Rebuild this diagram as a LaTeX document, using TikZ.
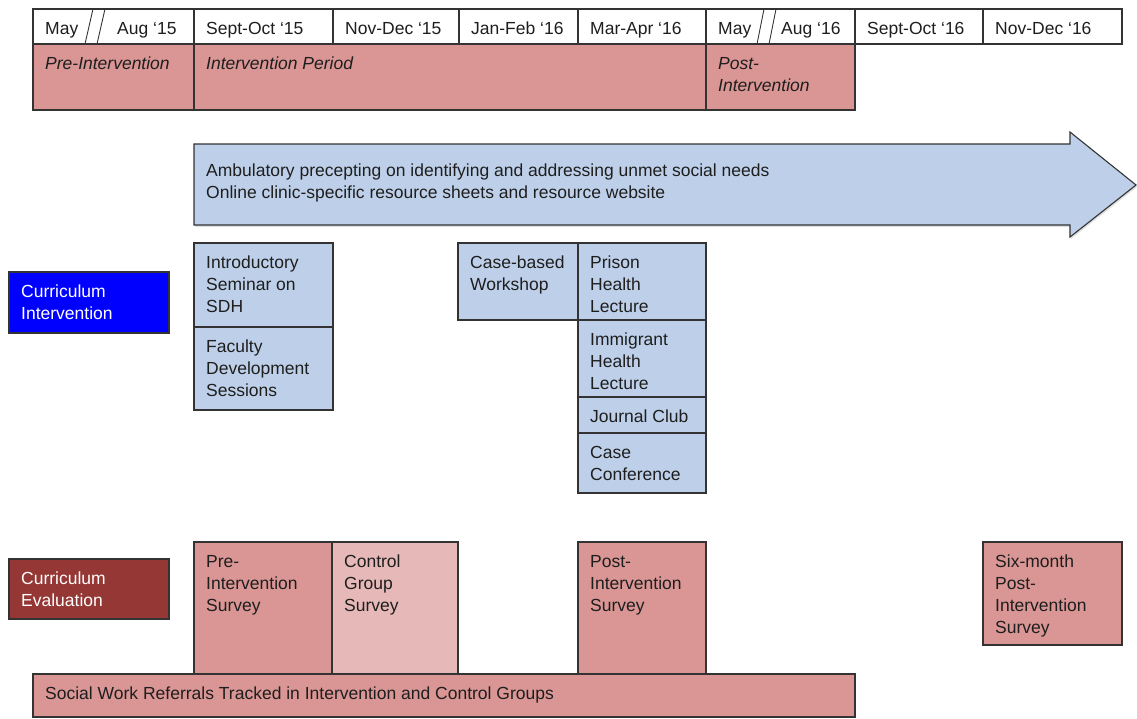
\documentclass[tikz,border=0pt]{standalone}
\usepackage{fontspec}
\setmainfont{Liberation Sans}
\usetikzlibrary{shadows}
\definecolor{rose}{HTML}{D99694}
\definecolor{palerose}{HTML}{E6B9B8}
\definecolor{sky}{HTML}{BED0E9}
\definecolor{royal}{HTML}{0000FF}
\definecolor{maroon}{HTML}{953735}
\definecolor{edge}{HTML}{333333}
\definecolor{ink}{HTML}{1E1E1E}

% stacked lines whose baseline is that of the first line
\newcommand{\toplines}[1]{\begin{tabular}[t]{@{}l@{}}#1\end{tabular}}

% #1 name, #2 x1, #3 y1, #4 x2, #5 y2, #6 style, #7 text
\newcommand{\cellbox}[7]{%
  \node[box,#6,minimum width={(#4-#2)*1pt},minimum height={(#5-#3)*1pt},anchor=north west] (#1) at (#2,#3) {};
  \node[txt,anchor=base west] (#1-t) at (#2+12,#3+25) {\toplines{#7}};
}

\begin{document}
\begin{tikzpicture}[x=1pt,y=-1pt,
  box/.style={draw=edge,line width=1.1pt,inner sep=0pt,outer sep=0pt},
  txt/.style={inner sep=0pt,align=left,text=ink,font=\fontsize{17.5}{22}\selectfont},
  head/.style={fill=white},
  phase/.style={fill=rose},
  act/.style={fill=sky},
  survey/.style={fill=rose},
  ctrl/.style={fill=palerose}]
\useasboundingbox (0,0) rectangle (1137,718);

% timeline header
\cellbox{h1}{33}{9}{194}{44}{head}{May}
\node[txt,anchor=base west] (h1-b) at (117,34) {Aug ‘15};
\cellbox{h2}{194}{9}{333}{44}{head}{Sept-Oct ‘15}
\cellbox{h3}{333}{9}{459}{44}{head}{Nov-Dec ‘15}
\cellbox{h4}{459}{9}{578}{44}{head}{Jan-Feb ‘16}
\cellbox{h5}{578}{9}{706}{44}{head}{Mar-Apr ‘16}
\cellbox{h6}{706}{9}{855}{44}{head}{May}
\node[txt,anchor=base west] (h6-b) at (781,34) {Aug ‘16};
\cellbox{h7}{855}{9}{983}{44}{head}{Sept-Oct ‘16}
\cellbox{h8}{983}{9}{1122}{44}{head}{Nov-Dec ‘16}
\draw[edge,line width=0.9pt] (85,44) -- (93,9) (97,44) -- (105,9);
\draw[edge,line width=0.9pt] (757,44) -- (764,9) (769,44) -- (776,9);

% study phases
\cellbox{p1}{33}{44}{194}{110}{phase}{\itshape Pre-Intervention}
\cellbox{p2}{194}{44}{706}{110}{phase}{\itshape Intervention Period}
\cellbox{p3}{706}{44}{855}{110}{phase}{\itshape Post-\\\itshape Intervention}

% continuous activities
\draw[box,fill=sky,drop shadow={opacity=0.25,shadow xshift=1pt,shadow yshift=-2pt}]
  (194,144) -- (1070,144) -- (1070,132) -- (1136,185) -- (1070,237) -- (1070,225) -- (194,225) -- cycle;
\node[txt,anchor=base west] (amb) at (206,176)
  {\toplines{Ambulatory precepting on identifying and addressing unmet social needs\\Online clinic-specific resource sheets and resource website}};

% row labels
\cellbox{ci}{9}{272}{169}{333}{fill=royal}{\color{white}Curriculum\\\color{white}Intervention}
\cellbox{ce}{9}{559}{169}{619}{fill=maroon}{\color{white}Curriculum\\\color{white}Evaluation}

% curriculum sessions
\cellbox{intro}{194}{243}{333}{327}{act}{Introductory\\Seminar on\\SDH}
\cellbox{fac}{194}{327}{333}{410}{act}{Faculty\\Development\\Sessions}
\cellbox{cbw}{458}{243}{578}{320}{act}{Case-based\\Workshop}
\cellbox{pri}{578}{243}{706}{320}{act}{Prison\\Health\\Lecture}
\cellbox{imm}{578}{320}{706}{397}{act}{Immigrant\\Health\\Lecture}
\cellbox{jc}{578}{397}{706}{433}{act}{Journal Club}
\cellbox{cc}{578}{433}{706}{493}{act}{Case\\Conference}

% evaluation
\cellbox{pre}{194}{542}{332}{674}{survey}{Pre-\\Intervention\\Survey}
\cellbox{ctl}{332}{542}{458}{674}{ctrl}{Control\\Group\\Survey}
\cellbox{post}{578}{542}{706}{674}{survey}{Post-\\Intervention\\Survey}
\cellbox{six}{983}{542}{1122}{645}{survey}{Six-month\\Post-\\Intervention\\Survey}
\cellbox{sw}{33}{674}{855}{717}{survey}{Social Work Referrals Tracked in Intervention and Control Groups}
\end{tikzpicture}
\end{document}
